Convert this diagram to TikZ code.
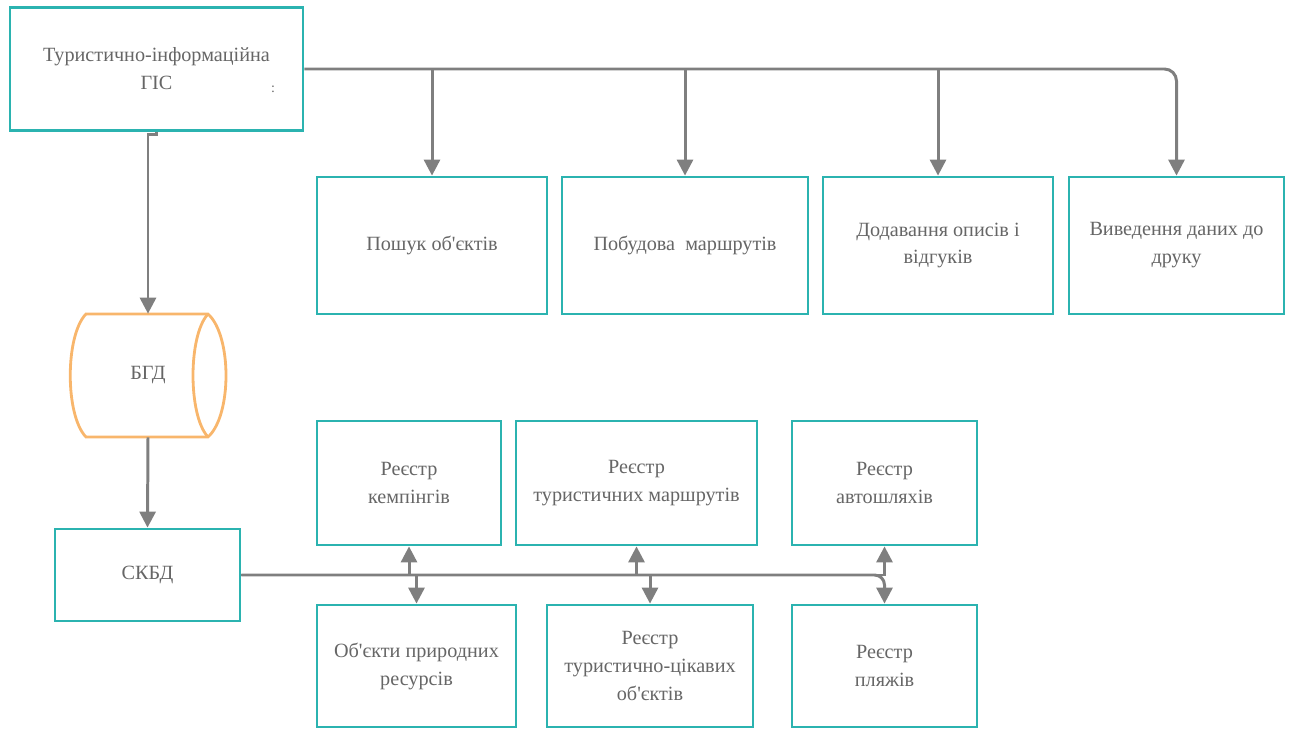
\documentclass[tikz,border=0pt]{standalone}
\usepackage{fontspec}
\setmainfont{Liberation Serif}
\usepackage{tikz}
\usetikzlibrary{arrows.meta, calc}
\definecolor{boxteal}{HTML}{2BB3B0}
\definecolor{dborange}{HTML}{F8B66C}
\definecolor{linegray}{HTML}{7F7F7F}
\definecolor{txtgray}{HTML}{666666}
\newcommand{\apos}{\textquotesingle}
\tikzset{>={Triangle[length=0.32cm,width=0.32cm]}}
\tikzset{
	box/.style={draw=boxteal, line width=1.6pt, fill=white, inner sep=2pt, align=center, text=txtgray, font=\fontsize{11.5pt}{15.9pt}\selectfont},
	dbnode/.style={minimum width=3.12cm, minimum height=2.46cm, align=center, text=txtgray, font=\fontsize{11.5pt}{15.9pt}\selectfont},
	dbline/.style={draw=dborange, line width=1.6pt},
	conn/.style={draw=linegray, line width=1.7pt, ->}
}

\begin{document}
\begin{tikzpicture}[x=0.02cm, y=-0.02cm]

			\useasboundingbox (0,0) rectangle (1293,729);

			%main system
			\node [box, minimum width=5.86cm, minimum height=2.46cm] (gis) at (156.5,69) {Туристично-інформаційна\\ГІС};
			\node [text=txtgray, font=\fontsize{8pt}{9pt}\selectfont] (dots) at (273,89) {:};

			%functions
			\node [box, minimum width=4.6cm, minimum height=2.74cm] (poshuk) at (432,245.5) {Пошук об\apos єктів};
			\node [box, minimum width=4.92cm, minimum height=2.74cm] (pobud) at (685,245.5) {Побудова \ маршрутів};
			\node [box, minimum width=4.6cm, minimum height=2.74cm] (dodav) at (938,245.5) {Додавання описів і\\відгуків};
			\node [box, minimum width=4.3cm, minimum height=2.74cm] (vyved) at (1176.5,245.5) {Виведення даних до\\друку};

			%database
			\node [dbnode] (bgd) at (148,375.5) {БГД};
			\draw [dbline, shift={(bgd.center)}] (-62,-61.5) -- (60,-61.5) .. controls (84,-40) and (84,40) .. (60,61.5) -- (-62,61.5) .. controls (-83,40) and (-83,-40) .. cycle;
			\draw [dbline, shift={(bgd.center)}] (60,-61.5) .. controls (40,-40) and (40,40) .. (60,61.5);
			\node [box, minimum width=3.7cm, minimum height=1.84cm] (skbd) at (147.5,575) {СКБД};

			%registers
			\node [box, minimum width=3.68cm, minimum height=2.48cm] (kemp) at (409,483) {Реєстр\\кемпінгів};
			\node [box, minimum width=4.82cm, minimum height=2.48cm] (marshr) at (636.5,483) {Реєстр\\туристичних маршрутів};
			\node [box, minimum width=3.7cm, minimum height=2.48cm] (avto) at (884.5,483) {Реєстр\\автошляхів};
			\node [box, minimum width=3.98cm, minimum height=2.44cm] (pryrod) at (416.5,666) {Об\apos єкти природних\\ресурсів};
			\node [box, minimum width=4.12cm, minimum height=2.44cm] (tsikav) at (650,666) {Реєстр\\туристично-цікавих\\об\apos єктів};
			\node [box, minimum width=3.7cm, minimum height=2.44cm] (plyazh) at (884.5,666) {Реєстр\\пляжів};

			\draw [conn, rounded corners=0.24cm] (gis.east) -| (vyved.north);
			\draw [conn] (poshuk.north |- gis.east) -- (poshuk.north);
			\draw [conn] (pobud.north |- gis.east) -- (pobud.north);
			\draw [conn] (dodav.north |- gis.east) -- (dodav.north);

			\draw [conn] (gis.south) -- ++(0,3) -| (bgd.north);
			\draw [conn] (bgd.south) -- (skbd.north);

			\draw [conn] (skbd.east) -| (avto.south);
			\draw [conn, rounded corners=0.2cm] (skbd.east) -| (plyazh.north);
			\draw [conn] (kemp.south |- skbd.east) -- (kemp.south);
			\draw [conn] (pryrod.north |- skbd.east) -- (pryrod.north);
			\draw [conn] (marshr.south |- skbd.east) -- (marshr.south);
			\draw [conn] (tsikav.north |- skbd.east) -- (tsikav.north);

		\end{tikzpicture}
\end{document}
